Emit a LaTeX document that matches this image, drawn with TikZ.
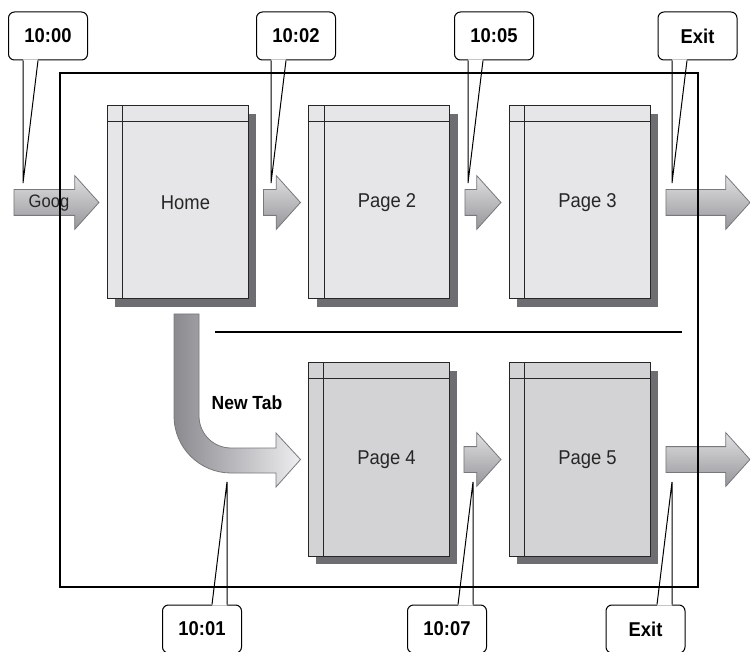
\documentclass[tikz,border=0pt]{standalone}
\usepackage{fontspec}
\setmainfont{Liberation Sans}
\newfontfamily\narrowfont{Liberation Sans}[FakeStretch=0.92]
\usetikzlibrary{shapes.arrows,shadows}

\definecolor{pagelight}{RGB}{230,230,232}
\definecolor{pagedark}{RGB}{211,211,213}
\definecolor{shadowgray}{RGB}{110,110,114}
\definecolor{arrowtop}{RGB}{224,224,226}
\definecolor{arrowbottom}{RGB}{150,150,154}
\definecolor{arrowline}{RGB}{120,120,124}
\definecolor{curvedark}{RGB}{138,138,143}
\definecolor{curvelight}{RGB}{238,238,240}

\tikzset{
	webpage/.style={draw=black!85, line width=1pt, fill=pagelight, minimum width=141pt, minimum height=193pt, inner sep=0pt,
		drop shadow={shadow xshift=8pt, shadow yshift=-8pt, fill=shadowgray, opacity=1}},
	pagename/.style={font=\narrowfont\fontsize{20}{22}\selectfont, text=black!85},
	flow/.style={single arrow, draw=arrowline, line width=0.8pt, top color=arrowtop, bottom color=arrowbottom,
		inner xsep=0pt, inner ysep=12.5pt, single arrow head extend=14pt, single arrow tip angle=96, anchor=tip},
	stamp/.style={draw, rounded corners=6pt, line width=1pt, fill=white, minimum width=79pt, minimum height=48pt,
		font=\narrowfont\bfseries\fontsize{20}{22}\selectfont},
	pointer/.style={line width=1pt}
}

\begin{document}
\begin{tikzpicture}[x=1pt,y=-1pt]
	\useasboundingbox (0,0) rectangle (750,652);
	% callouts above
	\foreach \n/\cx/\tx/\t in {t1000/48/23/10:00, t1002/296/271/10:02, t1005/494/468/10:05, exittop/697.5/672/Exit}{
		\node[stamp] (\n) at (\cx,36) {\t};
		\coordinate (\n-tip) at (\tx,183);
		\fill[white] ([yshift=1pt]\n-tip |- \n.south) -- (\n-tip) -- ([xshift=15pt,yshift=1pt]\n-tip |- \n.south) -- cycle;
		\draw[pointer] (\n-tip |- \n.south) -- (\n-tip) -- ([xshift=15pt]\n-tip |- \n.south);
	}
	% callouts below
	\foreach \n/\cx/\tx/\t in {t1001/202/227/10:01, t1007/447/473/10:07, exitbot/645.5/672/Exit}{
		\node[stamp] (\n) at (\cx,629) {\t};
		\coordinate (\n-tip) at (\tx,482);
		\fill[white] ([yshift=-1pt]\n-tip |- \n.north) -- (\n-tip) -- ([xshift=-15pt,yshift=-1pt]\n-tip |- \n.north) -- cycle;
		\draw[pointer] (\n-tip |- \n.north) -- (\n-tip) -- ([xshift=-15pt]\n-tip |- \n.north);
	}
	% pages
	\node[webpage] (home) at (177.5,202.5) {};
	\node[webpage] (page2) at (379,202.5) {};
	\node[webpage] (page3) at (579.5,202.5) {};
	\node[webpage, fill=pagedark] (page4) at (378.5,459.5) {};
	\node[webpage, fill=pagedark] (page5) at (579.5,459.5) {};
	\foreach \p/\s in {home/Home, page2/Page 2, page3/Page 3, page4/Page 4, page5/Page 5}{
		\draw[black!85, line width=1pt] ([xshift=16pt]\p.north west) -- ([xshift=16pt]\p.south west);
		\draw[black!85, line width=1pt] ([yshift=-16pt]\p.north west) -- ([yshift=-16pt]\p.north east);
		\node[pagename] (\p-name) at ([xshift=8pt]\p.center) {\s};
	}
	% arrows
	\node[flow, minimum height=85pt] (goog) at ([xshift=-7pt]home.west) {};
	\node[pagename, font=\narrowfont\fontsize{18}{20}\selectfont] (goog-name) at (49,203) {Goog};
	\node[flow, minimum height=37pt] (home-page2) at ([xshift=-7pt]page2.west) {};
	\node[flow, minimum height=36pt] (page2-page3) at ([xshift=-7pt]page3.west) {};
	\node[flow, minimum height=84pt] (page3-exit) at ([xshift=100pt]page3.east) {};
	\node[flow, minimum height=37pt] (page4-page5) at ([xshift=-7pt]page5.west) {};
	\node[flow, minimum height=84pt] (page5-exit) at ([xshift=100pt]page5.east) {};
	% new tab
	\draw[draw=arrowline, line width=0.8pt, left color=curvedark, right color=curvelight]
		(174,314) -- (174,416) arc[start angle=180, end angle=90, radius=57] -- (276,473) -- (276,487)
		-- ([xshift=-7pt]page4.west) -- (276,433) -- (276,448) -- (231,448)
		arc[start angle=90, end angle=180, radius=32] -- (199,314) -- cycle;
	\node[font=\narrowfont\bfseries\fontsize{19}{21}\selectfont] (newtab) at (247,403) {New Tab};
	% frame
	\draw[line width=2pt] (215,332) -- (682,332);
	\draw[line width=2pt] (60,73) rectangle (698,587);
\end{tikzpicture}
\end{document}
